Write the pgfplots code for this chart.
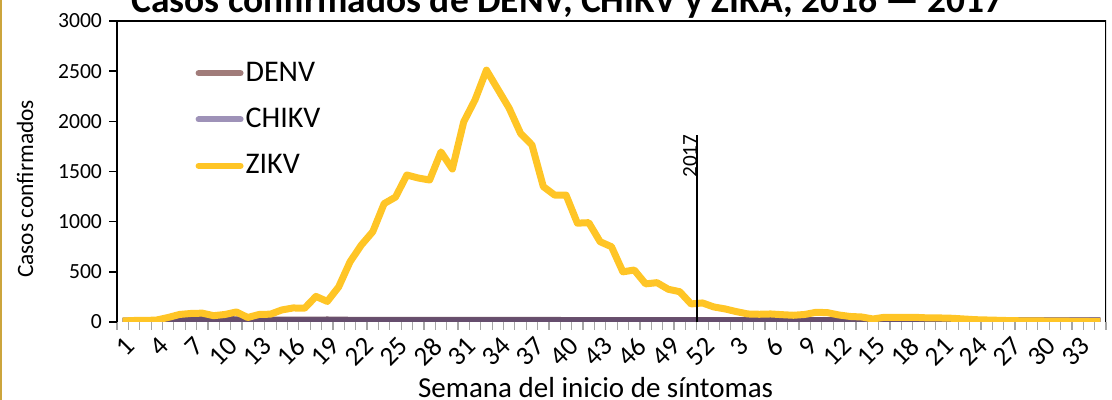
\documentclass[border=0pt]{standalone}
\usepackage{pgfplots}
\usepackage{pgfplotstable}
\pgfplotsset{compat=1.18}
\usepackage{fontspec}
\setmainfont{Carlito}
\definecolor{zika}{RGB}{255,197,38}
\definecolor{denvL}{RGB}{161,124,122}
\definecolor{chikL}{RGB}{158,146,184}
\definecolor{denvD}{RGB}{118,88,104}
\definecolor{chikD}{RGB}{102,78,110}
\definecolor{goldb}{RGB}{204,165,60}

\pgfplotstableread{
i zika denv chik
1 10 8 6
2 15 8 6
3 15 9 6
4 20 9 7
5 45 18 12
6 75 26 14
7 85 28 16
8 88 28 16
9 63 26 14
10 75 24 14
11 100 22 13
12 45 21 13
13 75 20 12
14 78 20 12
15 120 19 12
16 140 19 12
17 137 19 12
18 255 19 12
19 205 20 12
20 350 19 12
21 600 17 11
22 768 17 11
23 900 16 11
24 1180 16 11
25 1245 16 11
26 1465 16 11
27 1435 16 11
28 1415 16 11
29 1695 16 11
30 1525 16 11
31 1995 16 11
32 2215 16 11
33 2510 16 11
34 2320 16 11
35 2130 16 11
36 1880 16 11
37 1765 16 11
38 1350 16 11
39 1265 16 11
40 1265 14 10
41 985 14 10
42 990 14 10
43 800 14 10
44 750 14 10
45 500 14 10
46 518 14 10
47 380 14 10
48 392 14 10
49 326 14 10
50 302 14 10
51 180 14 10
52 190 14 10
53 150 13 10
54 130 13 10
55 103 13 10
56 80 13 10
57 77 13 10
58 80 13 10
59 73 13 10
60 67 13 10
61 75 13 10
62 97 13 10
63 93 13 10
64 70 13 10
65 55 12 9
66 50 12 9
67 30 12 9
68 47 12 9
69 47 12 9
70 45 12 9
71 45 12 9
72 40 12 9
73 40 12 9
74 37 11 9
75 30 11 9
76 23 11 9
77 20 11 9
78 17 11 9
79 14 10 8
80 12 10 8
81 10 10 8
82 10 10 8
83 8 10 8
84 8 10 8
85 6 10 8
86 5 10 8
87 3 10 8
}\datatable

\begin{document}
\begin{tikzpicture}[x=1pt,y=1pt]
\useasboundingbox (0,0) rectangle (556,200);
\fill[goldb] (0,0) rectangle (1.2,200);
\node[anchor=base, font=\bfseries\fontsize{18.7}{22}\selectfont] at (283.75,193.5) {Casos confirmados de DENV, CHIKV y ZIKA, 2016 — 2017};
\begin{axis}[
  at={(58.5pt,39pt)}, anchor=south west,
  scale only axis, width=494.5pt, height=150.5pt,
  xmin=0.5, xmax=87.5, ymin=0, ymax=3000,
  axis x line*=bottom, axis y line*=left,
  x axis line style={draw=none},
  y axis line style={black, line width=1pt},
  xtick={1,4,...,85},
  xticklabels={1,4,7,10,13,16,19,22,25,28,31,34,37,40,43,46,49,52,3,6,9,12,15,18,21,24,27,30,33},
  minor xtick={0.5,1.5,...,87.5},
  ytick={0,500,...,3000},
  tick align=outside,
  major tick length=4pt, minor tick length=4pt,
  xtick style={draw=none},
  minor x tick style={draw=gray!70, line width=0.6pt},
  ytick style={draw=black, line width=0.8pt},
  /pgf/number format/assume math mode=true,
  /pgf/number format/1000 sep={},
  ticklabel style={font=\fontsize{10.8}{12}\selectfont},
  xticklabel style={rotate=45, anchor=east, yshift=-7pt, xshift=2pt, font=\fontsize{13.5}{15}\selectfont},
  xlabel={Semana del inicio de síntomas},
  xlabel style={at={(axis description cs:0.484,-0.219)}, anchor=center, font=\fontsize{14.5}{16}\selectfont},
  ylabel={Casos confirmados},
  ylabel style={at={(axis description cs:-0.093,0.442)}, anchor=center, font=\fontsize{11.7}{14}\selectfont},
  legend style={at={(axis description cs:0.073,0.885)}, anchor=north west, draw=none, fill=none,
    font=\fontsize{15}{17}\selectfont, row sep=10pt, nodes={inner sep=1pt}},
  legend cell align=left,
  legend image code/.code={\draw[#1, line width=3pt, line cap=round] (0pt,0pt) -- (21pt,0pt);},
]
\addlegendimage{denvL}
\addlegendentry{DENV}
\addlegendimage{chikL}
\addlegendentry{CHIKV}
\addlegendimage{zika}
\addlegendentry{ZIKV}
\addplot[denvD, line width=3.5pt, line join=round, forget plot] table[x=i,y=denv]{\datatable};
\addplot[chikD, line width=3.5pt, line join=round, forget plot] table[x=i,y=chik]{\datatable};
\addplot[zika, line width=3.5pt, line join=round, forget plot] table[x=i,y=zika]{\datatable};
\draw[black, line width=1pt] (rel axis cs:0,1) -- (rel axis cs:1,1) -- (rel axis cs:1,0);
\draw[black, line width=1pt] (axis cs:51.5,0) -- (axis cs:51.5,1865);
\node[rotate=90, anchor=base east, inner sep=0pt, xshift=-1pt, font=\fontsize{10.6}{12}\selectfont] at (axis cs:51.5,1890) {2017};
\end{axis}
\end{tikzpicture}
\end{document}
